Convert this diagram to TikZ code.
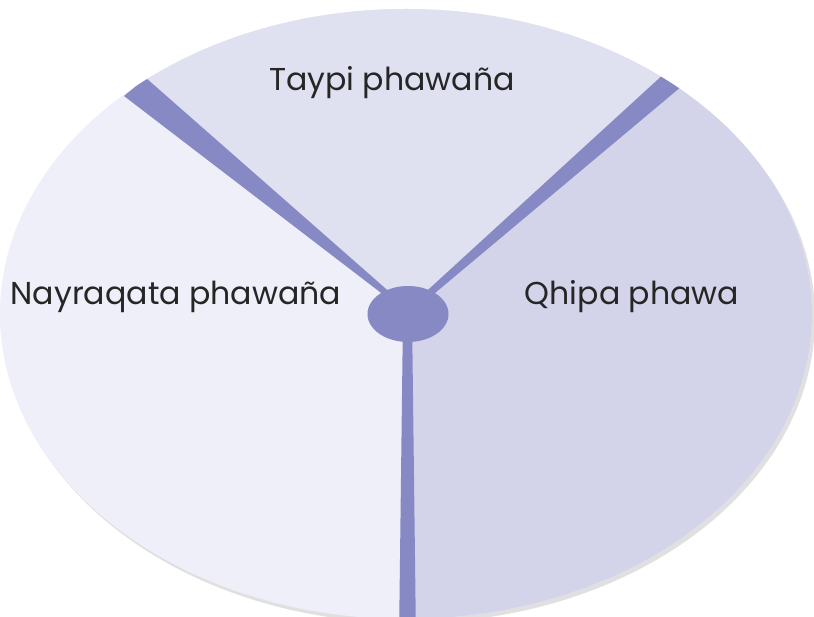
\documentclass[tikz,border=0pt]{standalone}
\usepackage{fontspec}
\setmainfont{Poppins}
\usepackage{xcolor}
\usetikzlibrary{shapes.geometric}
\definecolor{leftpart}{HTML}{EEEFF8}
\definecolor{toppart}{HTML}{DFE0F0}
\definecolor{rightpart}{HTML}{D3D4EA}
\definecolor{spoke}{HTML}{8789C4}
\tikzset{
  partlabel/.style={font=\fontsize{18}{21}\selectfont, text=black!85},
}
\begin{document}
\begin{tikzpicture}[x=0.02cm,y=-0.02cm]
        \useasboundingbox (0,0) rectangle (814,617);
        \fill[white] (0,0) rectangle (814,617);
        % soft shadow
        \fill[black!12] (409,318) ellipse (406 and 305);
        \begin{scope}
            \clip (406,314) ellipse (406 and 305);
            \fill[leftpart] (0,0) rectangle (814,700);
            \fill[toppart] (408,314) -- (-138,-140) -- (938,-154) -- cycle;
            \fill[rightpart] (408,314) -- (938,-154) -- (1000,700) -- (408,700) -- cycle;
            % spokes
            \fill[spoke] (406,312) -- (124,96) -- (146,78) -- (410,310) -- cycle;
            \fill[spoke] (406,310) -- (666,72) -- (682,86) -- (410,314) -- cycle;
            \fill[spoke] (403,314) -- (399,640) -- (416,640) -- (412,314) -- cycle;
        \end{scope}
        \node[ellipse, fill=spoke, minimum width=81*0.02cm, minimum height=56*0.02cm, inner sep=0pt] (hub) at (408,314) {};
        \node[partlabel] (taypi) at (392,83) {Taypi phawaña};
        \node[partlabel] (nayra) at (176,297) {Nayraqata phawaña};
        \node[partlabel] (qhipa) at (632,297) {Qhipa phawa};
    \end{tikzpicture}
\end{document}
